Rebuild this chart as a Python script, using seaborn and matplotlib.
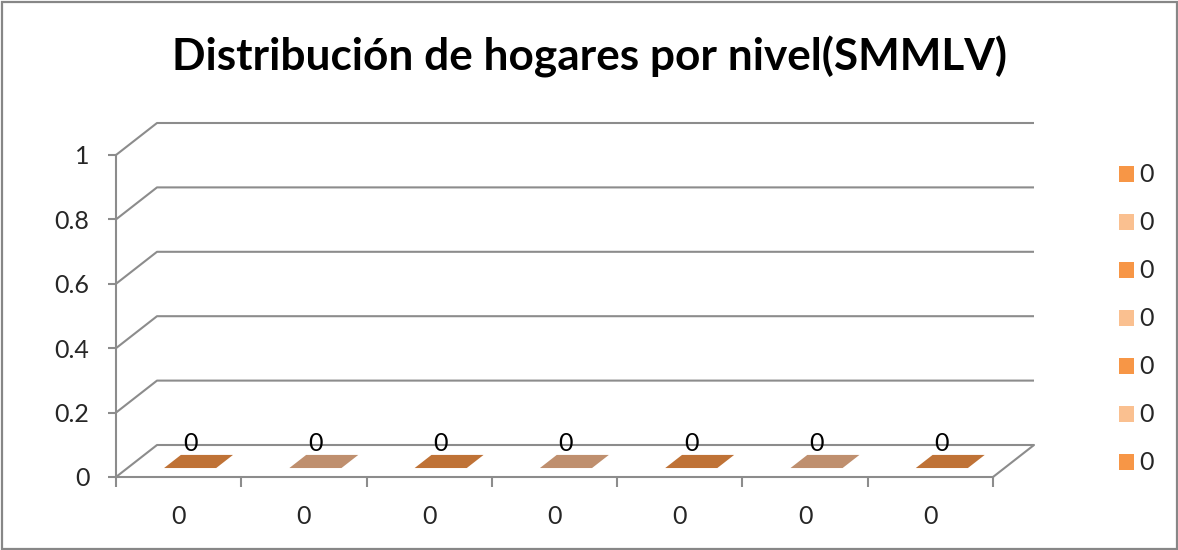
import matplotlib
matplotlib.use("Agg")
import matplotlib.pyplot as plt
import seaborn as sns
import pandas as pd
import numpy as np
from matplotlib.patches import Polygon, Rectangle, Patch

# ---------------- data ----------------
title = "Distribución de hogares por nivel(SMMLV)"
categories = ["0", "0", "0", "0", "0", "0", "0"]
values = [0, 0, 0, 0, 0, 0, 0]
legend_labels = ["0", "0", "0", "0", "0", "0", "0"]
yticks = [0, 0.2, 0.4, 0.6, 0.8, 1]
ytick_labels = ["0", "0.2", "0.4", "0.6", "0.8", "1"]

# ---------------- style ----------------
bar_colors = ["#BF7236", "#BF8F6E"]
legend_colors = ["#F79646", "#FAC090"]
GREY = "#8C8C8C"
FONT = ["Lato", "DejaVu Sans"]
FS = 18

sns.set_theme(style="white")
plt.rcParams["font.family"] = FONT

W, H = 1178, 550
DPI = 100
fig = plt.figure(figsize=(W / DPI, H / DPI), dpi=DPI)
fig.patch.set_facecolor("white")

# front plane of the 3-D box
ax = fig.add_axes([116 / W, (H - 477) / H, (993 - 116) / W, (477 - 155) / H])
df = pd.DataFrame({"pos": np.arange(len(values)), "value": values})
sns.barplot(data=df, x="pos", y="value", ax=ax, color=bar_colors[0],
            linewidth=0, errorbar=None)
ax.set_xlim(-0.5, len(values) - 0.5)
ax.set_ylim(yticks[0], yticks[-1])
ax.set_xlabel("")
ax.set_ylabel("")
ax.set_facecolor("none")
ax.grid(False)

for s in ["top", "right"]:
    ax.spines[s].set_visible(False)
for s in ["left", "bottom"]:
    ax.spines[s].set_color(GREY)
    ax.spines[s].set_linewidth(1.5)

# depth offset (oblique projection) in data units
DEPTH_PX = (41, 32)
xspan = ax.get_xlim()[1] - ax.get_xlim()[0]
yspan = ax.get_ylim()[1] - ax.get_ylim()[0]
ox = DEPTH_PX[0] / (ax.bbox.width / xspan)
oy = DEPTH_PX[1] / (ax.bbox.height / yspan)
x0, x1 = ax.get_xlim()

# walls / gridlines
for y in yticks:
    ax.plot([x0, x0 + ox, x1 + ox], [y, y + oy, y + oy], color=GREY,
            lw=1.5, clip_on=False, solid_capstyle="butt", zorder=1)
ax.plot([x1, x1 + ox], [yticks[0], yticks[0] + oy], color=GREY, lw=1.5,
        clip_on=False, zorder=1)

# y ticks
ax.set_yticks(yticks)
ax.set_yticklabels(ytick_labels)
ax.tick_params(axis="y", which="major", direction="out", length=6,
               width=1.5, color=GREY, pad=13, labelsize=FS, left=True)

# x ticks: labels at centres, tick marks at boundaries
ax.set_xticks(np.arange(len(categories)))
ax.set_xticklabels(categories)
ax.set_xticks(np.arange(len(categories) + 1) - 0.5, minor=True)
ax.tick_params(axis="x", which="major", length=0, pad=20, labelsize=FS)
ax.tick_params(axis="x", which="minor", direction="out", length=7.5,
               width=1.5, color=GREY, bottom=True)

# bars (flat, zero height) drawn as top faces on the floor
BW = 0.416
Z0, Z1 = 0.28, 0.69
for i, v in enumerate(values):
    c = bar_colors[i % 2]
    pts = [
        (i - BW / 2 + Z0 * ox, v + Z0 * oy),
        (i + BW / 2 + Z0 * ox, v + Z0 * oy),
        (i + BW / 2 + Z1 * ox, v + Z1 * oy),
        (i - BW / 2 + Z1 * ox, v + Z1 * oy),
    ]
    ax.add_patch(Polygon(pts, closed=True, facecolor=c, edgecolor="none",
                         clip_on=False, zorder=3))
    ax.annotate(f"{v:g}", xy=(i + Z0 * ox, v + Z0 * oy), xytext=(0, 17.5),
                textcoords="offset points", ha="center", va="center",
                fontsize=FS, color="black", zorder=4, annotation_clip=False)

# legend
handles = [Patch(facecolor=legend_colors[i % 2], edgecolor="none")
           for i in range(len(legend_labels))]
leg = fig.legend(handles, legend_labels, loc="upper left",
                 bbox_to_anchor=(1106 / W, 1 - 151 / H), frameon=False,
                 fontsize=FS, handlelength=0.6, handleheight=0.6,
                 handletextpad=0.25, labelspacing=1.0, borderpad=0)

# title
fig.text(589 / W, 1 - 57 / H, title, ha="center", va="center",
         fontsize=31.8, fontweight="bold", color="black")

# outer border
fig.patches.append(Rectangle((1.5 / W, 1.5 / H), (W - 3) / W, (H - 3.5) / H,
                             transform=fig.transFigure, fill=False,
                             edgecolor="#878787", lw=1.6))

fig.savefig("out.png", dpi=DPI)
